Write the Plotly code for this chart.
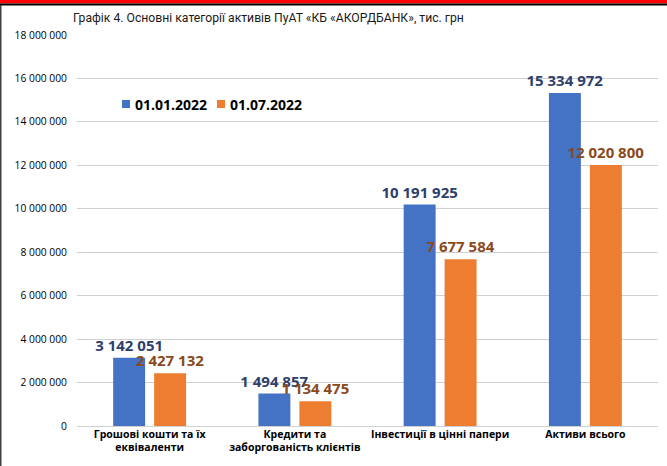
import plotly.graph_objects as go

categories = ["Грошові кошти та їх<br>еквіваленти",
              "Кредити та<br>заборгованість клієнтів",
              "Інвестиції в цінні папери",
              "Активи всього"]
series_names = ["01.01.2022", "01.07.2022"]
values_jan = [3142051, 1494857, 10191925, 15334972]
values_jul = [2427132, 1134475, 7677584, 12020800]
tick_vals = [0, 2000000, 4000000, 6000000, 8000000, 10000000, 12000000, 14000000, 16000000, 18000000]

bar_colors = ["#4472C4", "#ED7D31"]
label_colors = ["#2E3F6B", "#8A4A1C"]
FONT = "Open Sans"

fig = go.Figure()
for name, vals, bc, lc in zip(series_names, [values_jan, values_jul], bar_colors, label_colors):
    fig.add_trace(go.Bar(
        x=categories, y=vals, name=name,
        marker=dict(color=bc, line=dict(width=0)),
        texttemplate="%{y:,d}", textposition="outside",
        textfont=dict(family=FONT, size=15, color=lc, weight="bold"),
        constraintext="none", cliponaxis=False, showlegend=False,
    ))

W, H = 667, 466
L, R, T, B = 77, 9, 35, 40
pw, ph = W - L - R, H - T - B

def px(x):
    return (x - L) / pw

def py(y):
    return (H - B - y) / ph

shapes = [
    dict(type="rect", xref="paper", yref="paper", x0=px(0), x1=px(W), y0=py(3.5), y1=py(0),
         fillcolor="#FF0000", line=dict(width=0), layer="above"),
    dict(type="rect", xref="paper", yref="paper", x0=px(0), x1=px(W), y0=py(5.5), y1=py(3.5),
         fillcolor="#000000", line=dict(width=0), layer="above"),
    dict(type="rect", xref="paper", yref="paper", x0=px(0), x1=px(1.5), y0=py(H), y1=py(5),
         fillcolor="#404040", line=dict(width=0), layer="above"),
]

# legend: colour keys and labels
legend_x = [122, 217]
annotations = []
for name, bc, lx in zip(series_names, bar_colors, legend_x):
    shapes.append(dict(type="rect", xref="paper", yref="paper",
                       x0=px(lx), x1=px(lx + 8), y0=py(108), y1=py(100),
                       fillcolor=bc, line=dict(width=0)))
    annotations.append(dict(xref="paper", yref="paper", x=px(lx + 11), y=py(104),
                            xanchor="left", yanchor="middle", showarrow=False, text=name,
                            font=dict(family=FONT, size=14, color="#000000", weight="bold")))

fig.update_layout(
    width=W, height=H,
    margin=dict(l=L, r=R, t=T, b=B, autoexpand=False),
    paper_bgcolor="white", plot_bgcolor="white",
    separators=". ",
    barmode="group", bargap=0.436, bargroupgap=0.22,
    font=dict(family=FONT, color="#000000"),
    title=dict(text="Графік 4. Основні категорії активів ПуАТ «КБ «АКОРДБАНК», тис. грн",
               xref="container", yref="container",
               x=73 / W, xanchor="left", y=1 - 18 / H, yanchor="middle",
               pad=dict(l=0, r=0, t=0, b=0),
               font=dict(family="Roboto", size=12.2, color="#1a1a1a")),
    showlegend=False,
    shapes=shapes,
    annotations=annotations,
    xaxis=dict(showgrid=False, showline=False, ticks="", automargin=False,
               tickfont=dict(family=FONT, size=10.5, color="#000000", weight="bold")),
    yaxis=dict(range=[0, 18000000], tickvals=tick_vals, tickformat=",d", automargin=False,
               showgrid=True, gridcolor="#D0D0D0", gridwidth=1,
               zeroline=True, zerolinecolor="#D0D0D0", zerolinewidth=1,
               showline=False, ticks="", ticklen=0, ticklabelstandoff=9,
               tickfont=dict(family=FONT, size=10.3, color="#000000")),
)

fig.write_html("out.html", config={"displayModeBar": False},
               post_script="document.body.style.margin='0px';")
